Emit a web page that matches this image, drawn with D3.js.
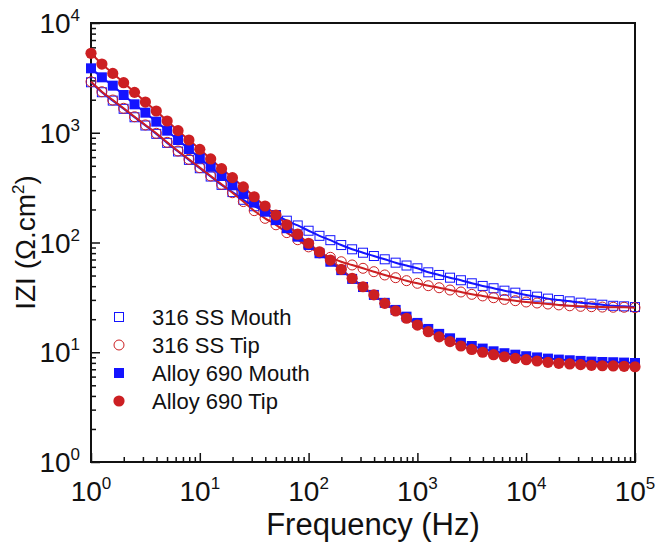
<!DOCTYPE html>
<html>
<head>
<meta charset="utf-8">
<script src="https://cdn.jsdelivr.net/npm/d3@7"></script>
<style>
  body { margin: 0; background: #fff; }
  text { font-family: "Liberation Sans", Arial, sans-serif; fill: #111; }
</style>
</head>
<body>
<svg class="chart"></svg>
<script>
// frequencies (Hz), 10 points per decade
var freq = [1, 1.259, 1.585, 1.995, 2.512, 3.162, 3.981, 5.012, 6.310, 7.943,
  10, 12.59, 15.85, 19.95, 25.12, 31.62, 39.81, 50.12, 63.10, 79.43,
  100, 125.9, 158.5, 199.5, 251.2, 316.2, 398.1, 501.2, 631.0, 794.3,
  1000, 1259, 1585, 1995, 2512, 3162, 3981, 5012, 6310, 7943,
  10000, 12590, 15850, 19950, 25120, 31620, 39810, 50120, 63100, 79430, 100000];

// |Z| in ohm.cm2
var ssMouth = [2884, 2339, 1963, 1652, 1384, 1164, 977, 809, 675, 566,
  475, 399, 335, 288, 245, 214, 193, 178, 158, 143,
  128, 115, 105, 94.8, 86.7, 80.7, 75.3, 70.3, 65.5, 61.7,
  58.2, 53.5, 50.6, 47.8, 45.3, 42.5, 40.2, 38.3, 36.4, 34.9,
  33.3, 32.1, 30.8, 29.9, 29.1, 28.3, 27.7, 27.1, 26.5, 26.2, 25.8];

var ssTip = [2917, 2366, 1986, 1671, 1400, 1178, 989, 818, 682, 573,
  481, 404, 339, 284, 236, 195, 166, 145, 123, 106,
  91.2, 80.4, 73.3, 66.8, 62.4, 58.2, 54.2, 50.6, 47.8, 44.9,
  42.5, 40.4, 38.7, 36.9, 35.4, 33.7, 32.6, 31.4, 30.3, 29.5,
  28.7, 28.1, 27.5, 27.0, 26.5, 26.2, 26.0, 25.8, 25.7, 25.7, 25.5];

var alloyMouth = [3864, 3199, 2685, 2208, 1816, 1524, 1262, 1045, 859, 711,
  585, 491, 404, 332, 277, 231, 191, 160, 135, 113,
  94.8, 79.8, 66.8, 56.0, 46.6, 39.3, 33.3, 28.2, 24.3, 21.1,
  18.5, 16.3, 14.7, 13.4, 12.2, 11.4, 10.8, 10.2, 9.8, 9.5,
  9.2, 8.97, 8.75, 8.57, 8.45, 8.34, 8.22, 8.15, 8.11, 8.05, 7.98];

var alloyTip = [5297, 4227, 3475, 2858, 2333, 1905, 1578, 1279, 1045, 859,
  706, 577, 471, 390, 321, 261, 215, 178, 145, 119,
  98.4, 82.4, 69.2, 57.0, 47.2, 39.5, 33.3, 27.9, 23.8, 20.4,
  17.7, 15.4, 13.8, 12.5, 11.4, 10.6, 10.0, 9.5, 9.1, 8.8,
  8.55, 8.32, 8.09, 7.93, 7.82, 7.71, 7.60, 7.53, 7.50, 7.45, 7.38];

var seriesNames = ["316 SS Mouth", "316 SS Tip", "Alloy 690 Mouth", "Alloy 690 Tip"];
var xTicks = [1, 10, 100, 1000, 10000, 100000];
var yTicks = [1, 10, 100, 1000, 10000];
var tickExp = ["0", "1", "2", "3", "4", "5"];

var W = 656, H = 549;
var margin = { top: 23, right: 21, bottom: 87, left: 91 },
    width = W - margin.left - margin.right,
    height = H - margin.top - margin.bottom;

var blue = "#1414ff", red = "#cc1f22";

var svg = d3.select(".chart").attr("width", W).attr("height", H);
var g = svg.append("g").attr("transform", "translate(" + margin.left + "," + margin.top + ")");

var x = d3.scaleLog().domain([1, 1e5]).range([0, width]);
var y = d3.scaleLog().domain([1, 1e4]).range([height, 0]);

// minor ticks
var minorX = [], minorY = [];
for (var e = 0; e < 5; e++) for (var m = 2; m < 10; m++) minorX.push(m * Math.pow(10, e));
for (var e2 = 0; e2 < 4; e2++) for (var m2 = 2; m2 < 10; m2++) minorY.push(m2 * Math.pow(10, e2));

function styleAxis(sel) {
  sel.select(".domain").remove();
  sel.selectAll("line").attr("stroke", "#111").attr("stroke-width", 1.5);
  sel.selectAll("text").remove();
}

g.append("g").attr("transform", "translate(0," + height + ")")
  .call(d3.axisBottom(x).tickValues(minorX).tickSize(-5)).call(styleAxis);
g.append("g").attr("transform", "translate(0," + height + ")")
  .call(d3.axisBottom(x).tickValues(xTicks).tickSize(-9)).call(styleAxis);
g.append("g").call(d3.axisLeft(y).tickValues(minorY).tickSize(-5)).call(styleAxis);
g.append("g").call(d3.axisLeft(y).tickValues(yTicks).tickSize(-9)).call(styleAxis);

// frame
g.append("rect").attr("width", width).attr("height", height)
  .attr("fill", "none").attr("stroke", "#111").attr("stroke-width", 2);

// tick labels
xTicks.forEach(function (t, i) {
  var lab = g.append("text").attr("x", x(t)).attr("y", height + 39)
    .attr("text-anchor", "middle").style("font-size", "28px");
  lab.append("tspan").text("10");
  lab.append("tspan").attr("dy", -12).style("font-size", "17px").text(tickExp[i]);
});
yTicks.forEach(function (t, i) {
  var lab = g.append("text").attr("x", -11).attr("y", y(t) + 10)
    .attr("text-anchor", "end").style("font-size", "28px");
  lab.append("tspan").text("10");
  lab.append("tspan").attr("dy", -12).style("font-size", "17px").text(tickExp[i]);
});

// axis titles
g.append("text").attr("x", width / 2 + 10).attr("y", height + 73)
  .attr("text-anchor", "middle").style("font-size", "31px").text("Frequency (Hz)");

var yt = svg.append("text").attr("transform", "translate(35," + (margin.top + height / 2) + ") rotate(-90)")
  .attr("text-anchor", "middle").style("font-size", "28px");
yt.append("tspan").text("IZI (\u03A9.cm");
yt.append("tspan").attr("dy", -11).style("font-size", "17px").text("2");
yt.append("tspan").attr("dy", 11).text(")");

var plot = g.append("g");

function pts(vals) {
  return freq.map(function (f, i) { return [f, vals[i]]; });
}

var line = d3.line()
  .x(function (d) { return x(d[0]); })
  .y(function (d) { return y(d[1]); })
  .curve(d3.curveMonotoneX);

// 316 SS markers (open)
plot.selectAll(".sqo").data(pts(ssMouth)).enter().append("rect")
  .attr("x", function (d) { return x(d[0]) - 4.5; })
  .attr("y", function (d) { return y(d[1]) - 4.5; })
  .attr("width", 9).attr("height", 9)
  .attr("fill", "none").attr("stroke", blue).attr("stroke-width", 1);

plot.selectAll(".cio").data(pts(ssTip)).enter().append("circle")
  .attr("cx", function (d) { return x(d[0]); })
  .attr("cy", function (d) { return y(d[1]); })
  .attr("r", 5).attr("fill", "none").attr("stroke", red).attr("stroke-width", 1);

// fitted lines
plot.append("path").datum(pts(alloyMouth)).attr("d", line)
  .attr("fill", "none").attr("stroke", blue).attr("stroke-width", 2);
plot.append("path").datum(pts(alloyTip)).attr("d", line)
  .attr("fill", "none").attr("stroke", red).attr("stroke-width", 2);
plot.append("path").datum(pts(ssMouth)).attr("d", line)
  .attr("fill", "none").attr("stroke", blue).attr("stroke-width", 2);
plot.append("path").datum(pts(ssTip)).attr("d", line)
  .attr("fill", "none").attr("stroke", red).attr("stroke-width", 2);

// Alloy 690 markers (filled)
plot.selectAll(".sqf").data(pts(alloyMouth)).enter().append("rect")
  .attr("x", function (d) { return x(d[0]) - 5; })
  .attr("y", function (d) { return y(d[1]) - 5; })
  .attr("width", 10).attr("height", 10)
  .attr("fill", blue);

plot.selectAll(".cif").data(pts(alloyTip)).enter().append("circle")
  .attr("cx", function (d) { return x(d[0]); })
  .attr("cy", function (d) { return y(d[1]); })
  .attr("r", 5.6).attr("fill", red);

// legend
var leg = svg.append("g");
var legY = [317, 345, 373, 401];
seriesNames.forEach(function (name, i) {
  var cy = legY[i], cx = 119;
  if (i === 0) leg.append("rect").attr("x", cx - 4.5).attr("y", cy - 4.5).attr("width", 9).attr("height", 9)
    .attr("fill", "none").attr("stroke", blue).attr("stroke-width", 1);
  if (i === 1) leg.append("circle").attr("cx", cx).attr("cy", cy).attr("r", 5)
    .attr("fill", "none").attr("stroke", red).attr("stroke-width", 1);
  if (i === 2) leg.append("rect").attr("x", cx - 5).attr("y", cy - 5).attr("width", 10).attr("height", 10)
    .attr("fill", blue);
  if (i === 3) leg.append("circle").attr("cx", cx).attr("cy", cy).attr("r", 5.6).attr("fill", red);
  leg.append("text").attr("x", 152).attr("y", cy + 8).style("font-size", "22px").text(name);
});
</script>
</body>
</html>
